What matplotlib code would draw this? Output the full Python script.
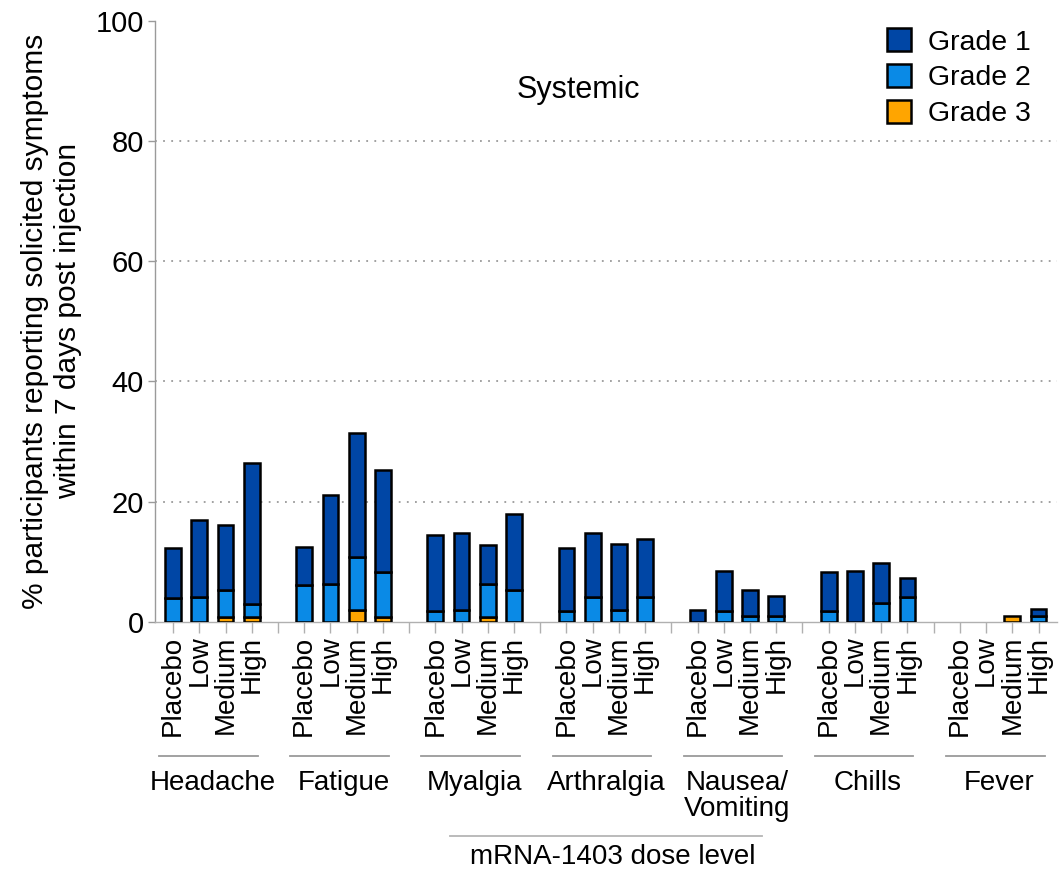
import matplotlib
matplotlib.use("Agg")
import matplotlib.pyplot as plt
from matplotlib.patches import Patch
import numpy as np

plt.rcParams['font.family'] = ['Liberation Sans', 'DejaVu Sans']

# symptoms and dose levels
symptoms = ["Headache", "Fatigue", "Myalgia", "Arthralgia", "Nausea/\nVomiting", "Chills", "Fever"]
doses = ["Placebo", "Low", "Medium", "High"]

# % participants per grade, one row per symptom (Placebo, Low, Medium, High)
grade1 = [
    [8.4, 12.8, 10.9, 23.5],
    [6.3, 14.9, 20.7, 17.0],
    [12.6, 12.8, 6.5, 12.8],
    [10.5, 10.6, 10.9, 9.7],
    [1.95, 6.6, 4.3, 3.3],
    [6.5, 8.4, 6.6, 3.2],
    [0.0, 0.0, 0.0, 1.2],
]
grade2 = [
    [3.9, 4.1, 4.4, 2.1],
    [6.1, 6.2, 8.7, 7.5],
    [1.8, 1.9, 5.5, 5.2],
    [1.8, 4.1, 2.0, 4.1],
    [0.0, 1.8, 0.9, 0.9],
    [1.8, 0.0, 3.1, 4.1],
    [0.0, 0.0, 0.0, 0.9],
]
grade3 = [
    [0.0, 0.0, 0.8, 0.8],
    [0.0, 0.0, 2.0, 0.8],
    [0.0, 0.0, 0.8, 0.0],
    [0.0, 0.0, 0.0, 0.0],
    [0.0, 0.0, 0.0, 0.0],
    [0.0, 0.0, 0.0, 0.0],
    [0.0, 0.0, 0.95, 0.0],
]

col1 = "#0046a5"
col2 = "#0a8ae6"
col3 = "#ffa500"
gray = "#9a9a9a"

fig = plt.figure(figsize=(10.63, 8.71), dpi=100)
ax = fig.add_axes([0.1458, 0.2862, 0.994 - 0.1458, 0.9762 - 0.2862])

n_dose = len(doses)
slot = n_dose + 1
g1 = np.array(grade1).ravel()
g2 = np.array(grade2).ravel()
g3 = np.array(grade3).ravel()
x = np.array([g * slot + i for g in range(len(symptoms)) for i in range(n_dose)])

width = 0.6
for vals, base, col in [(g3, 0, col3), (g2, g3, col2), (g1, g3 + g2, col1)]:
    base = np.zeros_like(vals) + base
    m = vals > 0
    ax.bar(x[m], vals[m], width, bottom=base[m], color=col,
           edgecolor="black", linewidth=1.8, zorder=3)

ax.set_xlim(-0.69, x[-1] + 0.69)
ax.set_ylim(0, 100)
ax.set_yticks([0, 20, 40, 60, 80, 100])
for yv in [20, 40, 60, 80]:
    ax.axhline(yv, color=gray, linestyle=(0, (1, 3.5)), linewidth=1.3, zorder=1)

# ticks at every slot, labels only under bars
all_ticks = np.arange(0, x[-1] + 1)
labels = [doses[int(t) % slot] if int(t) % slot < n_dose else "" for t in all_ticks]
ax.set_xticks(all_ticks)
ax.set_xticklabels(labels, rotation=90, fontsize=20)
ax.tick_params(axis="x", length=8, width=1, color="#b0b0b0", pad=2)
ax.tick_params(axis="y", length=5, width=1, color=gray, labelsize=21, pad=3)

for s in ["top", "right"]:
    ax.spines[s].set_visible(False)
ax.spines["left"].set_color(gray)
ax.spines["bottom"].set_color("#b0b0b0")
ax.spines["left"].set_linewidth(1)
ax.spines["bottom"].set_linewidth(1)

ax.set_ylabel("% participants reporting solicited symptoms\nwithin 7 days post injection",
              fontsize=21.5, labelpad=10)

# group labels with short rules beneath the dose names
tr = ax.get_xaxis_transform()
for g, name in enumerate(symptoms):
    x0 = g * slot
    ax.plot([x0 - 0.53, x0 + 3.23], [-0.223, -0.223], color=gray, linewidth=1.3,
            transform=tr, clip_on=False)
    ax.text(x0 + 1.5, -0.247, name, transform=tr, ha="center", va="top",
            fontsize=20, linespacing=1.0)

ax.plot([10.57, 22.47], [-0.357, -0.357], color="#b5b5b5", linewidth=1.3,
        transform=tr, clip_on=False)
ax.text(16.75, -0.391, "mRNA-1403 dose level", transform=tr, ha="center",
        va="center", fontsize=20)

ax.text(0.47, 0.885, "Systemic", transform=ax.transAxes, ha="center", va="center",
        fontsize=22)

handles = [Patch(facecolor=c, edgecolor="black", linewidth=1.8) for c in (col1, col2, col3)]
ax.legend(handles, ["Grade 1", "Grade 2", "Grade 3"], loc="upper right",
          bbox_to_anchor=(1.0, 1.03), frameon=False, fontsize=20.5,
          handlelength=0.85, handleheight=0.85, handletextpad=0.6, labelspacing=0.3)

fig.savefig("out.png", dpi=100)
